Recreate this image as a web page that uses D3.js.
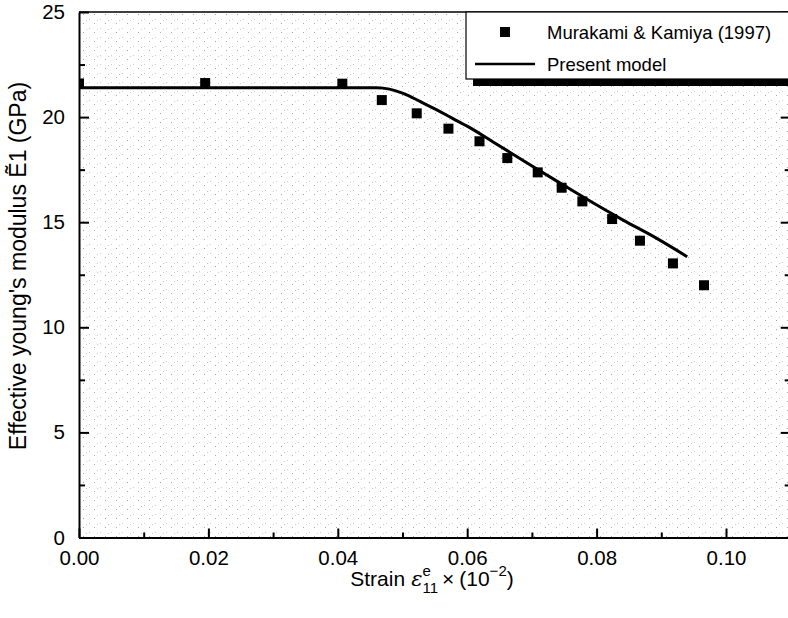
<!DOCTYPE html>
<html>
<head>
<meta charset="utf-8">
<script src="https://cdn.jsdelivr.net/npm/d3@7"></script>
<style>
  html, body { margin: 0; padding: 0; background: #fff; }
  svg { display: block; font-family: "Liberation Sans", Arial, Helvetica, sans-serif; }
</style>
</head>
<body>
<svg id="chart" width="788" height="618"></svg>
<script>
// Measured effective modulus (Murakami & Kamiya, 1997)
const expStrain  = [0.0000, 0.0195, 0.0407, 0.0468, 0.0522, 0.0571, 0.0619, 0.0662, 0.0709, 0.0746, 0.0778, 0.0824, 0.0867, 0.0918, 0.0966];
const expModulus = [21.60, 21.62, 21.59, 20.81, 20.18, 19.45, 18.85, 18.05, 17.37, 16.64, 15.99, 15.15, 14.12, 13.04, 12.00];

// Present model curve
const modelStrain  = [0.0000, 0.0300, 0.0460, 0.0480, 0.0501, 0.0527, 0.0553, 0.0578, 0.0604, 0.0640, 0.0692, 0.0743, 0.0795, 0.0841, 0.0893, 0.0940];
const modelModulus = [21.40, 21.40, 21.40, 21.33, 21.13, 20.75, 20.34, 19.93, 19.50, 18.82, 17.83, 16.87, 15.91, 15.10, 14.23, 13.36];

const xTickValues = [0.00, 0.02, 0.04, 0.06, 0.08, 0.10];
const xMinorValues = [0.01, 0.03, 0.05, 0.07, 0.09];
const yTickValues = [0, 5, 10, 15, 20, 25];
const yMinorValues = [2.5, 7.5, 12.5, 17.5, 22.5];

const legendLabels = ["Murakami & Kamiya (1997)", "Present model"];

const svg = d3.select("#chart");
const pL = 79, pR = 790.7, pT = 12, pB = 537.5;

const x = d3.scaleLinear().domain([0, 0.11]).range([pL, pR]);
const y = d3.scaleLinear().domain([0, 25]).range([pB, pT]);

// stippled plot background
const defs = svg.append("defs");
const pat = defs.append("pattern").attr("id", "stipple")
  .attr("patternUnits", "userSpaceOnUse").attr("width", 11).attr("height", 9);
[[1,1],[6,5],[9,2]].forEach(([px, py], i) => {
  pat.append("rect").attr("x", px).attr("y", py).attr("width", 1).attr("height", 1)
    .attr("fill", i === 1 ? "#a8a8a8" : "#cdcdcd");
});
defs.append("clipPath").attr("id", "plotClip").append("rect")
  .attr("x", pL).attr("y", pT).attr("width", pR - pL).attr("height", pB - pT);

svg.append("rect").attr("x", pL).attr("y", pT)
  .attr("width", pR - pL).attr("height", pB - pT)
  .attr("fill", "url(#stipple)");

// axes: ticks point inward
const fmtX = d3.format(".2f");
svg.append("g").attr("transform", `translate(0,${pB})`)
  .call(d3.axisBottom(x).tickValues(xTickValues).tickFormat(fmtX).tickSizeInner(-9).tickSizeOuter(0).tickPadding(13));
svg.append("g").attr("transform", `translate(0,${pB})`)
  .call(d3.axisBottom(x).tickValues(xMinorValues).tickFormat("").tickSizeInner(-5).tickSizeOuter(0))
  .select(".domain").remove();

svg.append("g").attr("transform", `translate(${pL},0)`)
  .call(d3.axisLeft(y).tickValues(yTickValues).tickFormat(d3.format("d")).tickSizeInner(-10).tickSizeOuter(0).tickPadding(14));
svg.append("g").attr("transform", `translate(${pL},0)`)
  .call(d3.axisLeft(y).tickValues(yMinorValues).tickFormat("").tickSizeInner(-6).tickSizeOuter(0))
  .select(".domain").remove();

svg.append("g").attr("transform", `translate(${pR},0)`)
  .call(d3.axisRight(y).tickValues(yTickValues).tickFormat("").tickSizeInner(-10).tickSizeOuter(0));
svg.append("g").attr("transform", `translate(${pR},0)`)
  .call(d3.axisRight(y).tickValues(yMinorValues).tickFormat("").tickSizeInner(-6).tickSizeOuter(0))
  .select(".domain").remove();

svg.append("line").attr("x1", pL).attr("x2", pR).attr("y1", pT).attr("y2", pT)
  .attr("stroke", "#000").attr("stroke-width", 1.5);

svg.selectAll(".domain").attr("stroke", "#000").attr("stroke-width", 2);
svg.selectAll(".tick line").attr("stroke", "#000").attr("stroke-width", 2);
svg.selectAll(".tick text").attr("font-size", 20.5).attr("fill", "#000")
  .attr("font-family", "'Liberation Sans', Arial, sans-serif");

// model curve
const plot = svg.append("g").attr("clip-path", "url(#plotClip)");
const line = d3.line().x(d => x(d[0])).y(d => y(d[1])).curve(d3.curveMonotoneX);
plot.append("path")
  .datum(d3.zip(modelStrain, modelModulus))
  .attr("d", line).attr("fill", "none").attr("stroke", "#000").attr("stroke-width", 3);

// experimental points
const sq = 10;
plot.selectAll("rect.pt").data(d3.zip(expStrain, expModulus)).join("rect")
  .attr("class", "pt")
  .attr("x", d => x(d[0]) - sq / 2).attr("y", d => y(d[1]) - sq / 2)
  .attr("width", sq).attr("height", sq).attr("fill", "#000");

// legend with drop shadow
const lg = svg.append("g");
lg.append("rect").attr("x", 473).attr("y", 79).attr("width", 330).attr("height", 7).attr("fill", "#000");
lg.append("rect").attr("x", 466).attr("y", pT).attr("width", 340).attr("height", 67)
  .attr("fill", "#fff").attr("stroke", "#000").attr("stroke-width", 1.2);
lg.append("rect").attr("x", 500).attr("y", 27).attr("width", 10).attr("height", 10).attr("fill", "#000");
lg.append("line").attr("x1", 475).attr("x2", 535).attr("y1", 64).attr("y2", 64)
  .attr("stroke", "#000").attr("stroke-width", 2.5);
lg.selectAll("text").data(legendLabels).join("text")
  .attr("x", 547).attr("y", (d, i) => 39 + i * 32)
  .attr("font-size", 18.5).attr("fill", "#000").text(d => d);

// y-axis title
svg.append("text")
  .attr("transform", `translate(26,266) rotate(-90)`)
  .attr("text-anchor", "middle").attr("font-size", 23).attr("fill", "#000")
  .text("Effective young's modulus \u1EBC1 (GPa)");

// x-axis title with stacked sub/superscript
const xt = svg.append("g");
const base = 586;
let cx = 0;
function piece(str, opts = {}) {
  const t = xt.append("text").attr("x", cx).attr("y", base + (opts.dy || 0))
    .attr("font-size", opts.size || 21).attr("fill", "#000")
    .attr("font-style", opts.italic ? "italic" : "normal")
    .attr("font-family", opts.family || null)
    .text(str);
  const w = t.node().getComputedTextLength();
  if (!opts.stay) cx += w;
  return w;
}
piece("Strain");
cx += 6;
piece("\u03B5", { italic: true, family: "'DejaVu Serif', serif" });
const w1 = piece("e", { size: 15, dy: -10, stay: true });
const w2 = piece("11", { size: 15, dy: 7, stay: true });
cx += Math.max(w1, w2) + 4;
piece("\u00D7");
cx += 5;
piece("(10");
piece("\u22122", { size: 15, dy: -10 });
piece(")");
const totalW = cx;
xt.attr("transform", `translate(${432 - totalW / 2},0)`);
</script>
</body>
</html>
